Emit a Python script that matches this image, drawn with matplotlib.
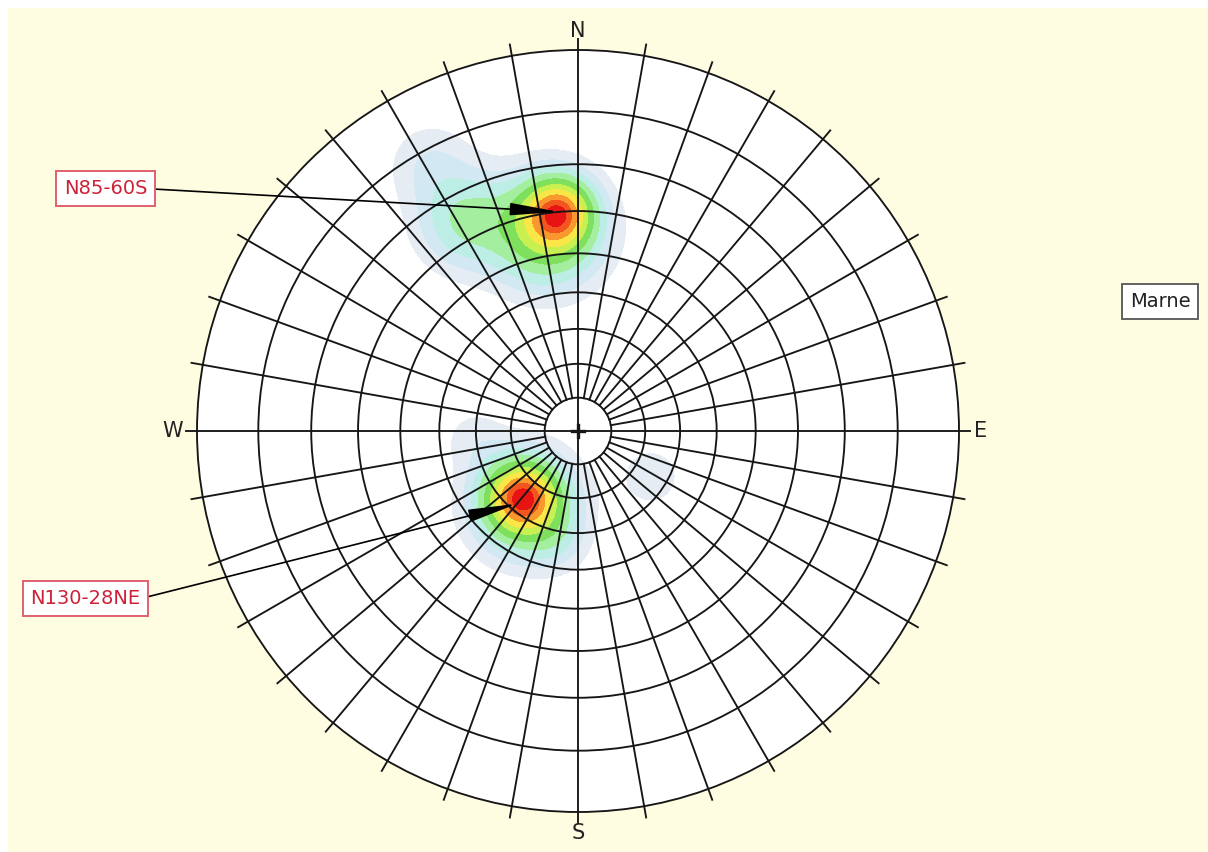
import numpy as np
import matplotlib
matplotlib.use("Agg")
import matplotlib.pyplot as plt
from matplotlib.colors import ListedColormap, BoundaryNorm
from matplotlib.patches import Circle, Rectangle


# DENSITY CLUSTERS (poles: trend / plunge in degrees)
cluster_trend  = [355, 351, 332, 331, 220, 216, 192, 265, 122]
cluster_plunge = [30, 34, 26, 12.9, 64.4, 63.1, 57.4, 59.6, 64.5]
cluster_weight = [1.0, 0.8, 0.40, 0.15, 1.0, 0.7, 0.15, 0.10, 0.10]
cluster_spread = [0.056, 0.092, 0.082, 0.073, 0.058, 0.086, 0.052, 0.058, 0.068]

# LABELLED PLANES (dip, dip direction)
plane_labels = ["N85-60S", "N130-28NE"]
plane_dip    = [60, 28]
plane_dipdir = [175, 40]

sample_label = "Marne"

# density levels (fraction of max) and their colours
density_levels = [0.04, 0.09, 0.15, 0.23, 0.33, 0.45, 0.57, 0.70, 0.82, 0.92, 1.01]
density_colors = ['#e6ecf3', '#d2e8f2', '#bdeee6', '#a4eea0', '#7ee05c',
                  '#c8f050', '#fae646', '#f8982e', '#f2561e', '#e81414']


def pole_xy(trend, plunge):
    # equal-angle projection of a pole, radius 1 = horizontal
    r = np.tan(np.radians(90 - np.asarray(plunge, float)) / 2)
    t = np.radians(np.asarray(trend, float))
    return r * np.sin(t), r * np.cos(t)


W, H = 1208, 852
cx, cy, R = 578, 431, 381

fig = plt.figure(figsize=(W / 100, H / 100), dpi=100, facecolor='white')
ax = fig.add_axes([0, 0, 1, 1])
ax.set_xlim(-cx / R, (W - cx) / R)
ax.set_ylim(-(H - cy) / R, cy / R)
ax.axis('off')

# cream background with thin white margin on top / left
ax.add_patch(Rectangle((8 / W, 0), 1, 1 - 8 / H, transform=ax.transAxes,
                       fc='#fffde1', ec='none', zorder=0))

net = Circle((0, 0), 1, fc='white', ec='none', zorder=1)
ax.add_patch(net)

# DENSITY GRID
g = np.linspace(-1, 1, 500)
X, Y = np.meshgrid(g, g)
px, py = pole_xy(cluster_trend, cluster_plunge)
Z = np.zeros_like(X)
for x0, y0, w, s in zip(px, py, cluster_weight, cluster_spread):
    Z += w * np.exp(-((X - x0) ** 2 + (Y - y0) ** 2) / (2 * s ** 2))
Z = Z / Z.max()
Z[X ** 2 + Y ** 2 > 1] = np.nan

cmap = ListedColormap(density_colors)
norm = BoundaryNorm(density_levels, cmap.N)
cs = ax.contourf(X, Y, Z, levels=density_levels, cmap=cmap, norm=norm, zorder=2)
cs.set_clip_path(net)

# NET GRID
grid_col = '#161616'
line_kw = dict(color=grid_col, lw=1.35, zorder=3)
for d in range(10, 91, 10):
    ax.add_patch(Circle((0, 0), np.tan(np.radians(d / 2)), fill=False,
                        ec=grid_col, lw=1.35, zorder=3))

r_in = np.tan(np.radians(5))
for az in range(0, 360, 10):
    a = np.radians(az)
    r0 = 0 if az % 90 == 0 else r_in
    ax.plot([r0 * np.sin(a), 1.03 * np.sin(a)],
            [r0 * np.cos(a), 1.03 * np.cos(a)], **line_kw)

# centre cross
ax.plot([-0.016, 0.016], [0, 0], color=grid_col, lw=2.4, zorder=4)
ax.plot([0, 0], [-0.016, 0.016], color=grid_col, lw=2.4, zorder=4)

# compass letters
for txt, x, y in [('N', 0, 1.050), ('S', 0, -1.055), ('W', -1.063, 0), ('E', 1.056, 0)]:
    ax.text(x, y, txt, fontsize=15, color='#222222', ha='center', va='center', zorder=5)

# ANNOTATIONS
label_pos = [(-1.239, 0.636), (-1.293, -0.440)]
pole_tr = [(dd + 180) % 360 for dd in plane_dipdir]
pole_pl = [90 - d for d in plane_dip]
ax_, ay_ = pole_xy(pole_tr, pole_pl)
for txt, (lx, ly), x0, y0 in zip(plane_labels, label_pos, ax_, ay_):
    ax.annotate(txt, xy=(x0, y0), xytext=(lx, ly), fontsize=14, color='#cc2236',
                ha='center', va='center', zorder=6,
                bbox=dict(boxstyle='square,pad=0.4', fc='white', ec='#e0606e', lw=1.4),
                arrowprops=dict(arrowstyle='-|>,head_length=2.5,head_width=0.32',
                                color='black', lw=1.2, relpos=(1.0, 0.5),
                                shrinkA=0, shrinkB=0, mutation_scale=12))

ax.text(1.528, 0.340, sample_label, fontsize=14, color='#222222',
        ha='center', va='center', zorder=6,
        bbox=dict(boxstyle='square,pad=0.4', fc='white', ec='#555555', lw=1.3))

fig.savefig('out.png', dpi=100, facecolor='white')
